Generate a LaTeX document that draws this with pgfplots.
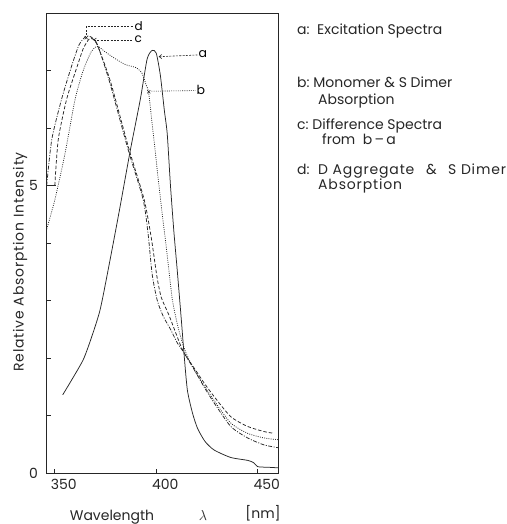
\documentclass[border=0pt]{standalone}
\usepackage{fontspec}
\setmainfont{Poppins}
\newfontfamily\spaced[LetterSpace=6]{Poppins}
\usepackage{pgfplots}
\pgfplotsset{compat=1.18}
\usetikzlibrary{arrows.meta}
\begin{document}
\fontsize{14}{16}\selectfont
\begin{tikzpicture}
\path[use as bounding box] (0pt,0pt) rectangle (506pt,524pt);
\begin{axis}[
  at={(46.7pt,51pt)}, anchor=south west, scale only axis,
  width=231.3pt, height=460pt,
  xmin=346, xmax=460, ymin=0, ymax=8,
  xtick={350,400,450}, ytick={0,1,2,3,4,5,6,7},
  yticklabels={0,,,,,5,,},
  tick align=inside, xtick pos=bottom, ytick pos=left,
  major tick length=4pt,
  axis line style={line width=0.8pt, black!85},
  tick style={line width=0.7pt, black!85},
  /pgf/number format/assume math mode=true,
  /pgf/number format/1000 sep={},
  tick label style={font=\fontsize{14}{16}\selectfont, text=black!85},
  xticklabel style={xshift=9pt, yshift=-1pt},
  yticklabel style={xshift=-4pt},
  every axis plot/.append style={line width=0.75pt, black!85},
  clip=false,
]
% a: excitation spectra (solid)
\addplot[solid, smooth, tension=0.4] coordinates {
(353.9,1.36)(358,1.6)(364,1.97)(368,2.35)(372.4,2.85)(377.3,3.72)(382,4.6)(387.2,5.61)
(392.2,6.51)(395.5,7.2)(398,7.35)(400,7.3)(402,6.92)(404,6.3)(405.4,5.9)(407,5.0)
(408.7,4.19)(410.4,3.5)(412.5,2.6)(413.5,2.15)(415.3,1.45)(417.8,1.05)(420.3,0.78)
(424,0.55)(428.5,0.40)(436.7,0.27)(445,0.22)(448,0.18)(450,0.11)(455,0.1)(460,0.09)};
% b: monomer & S dimer absorption (dotted)
\addplot[dash pattern=on 0.9pt off 1.3pt, smooth, tension=0.4] coordinates {
(346,4.24)(350,4.75)(355,5.55)(360,6.5)(364,7.0)(368,7.33)(371,7.42)(375,7.32)(380,7.2)
(385,7.1)(390,7.05)(393,6.95)(395,6.75)(396.3,6.6)(398.8,5.81)(402.1,4.76)(405,3.9)
(407.9,3.02)(411,2.5)(414.5,2.1)(420,1.72)(428.5,1.26)(436.7,0.87)(445,0.69)(453,0.61)(460,0.58)};
% c: difference spectra (dashed)
\addplot[dash pattern=on 3.5pt off 2pt, smooth, tension=0.4] coordinates {
(350,5.0)(351.7,5.8)(355.9,6.51)(361.2,7.09)(364,7.38)(367,7.55)(369.5,7.53)(372,7.35)
(377.5,6.8)(386.5,5.64)(394,4.76)(397.5,4.1)(400.4,3.4)(402.5,3.05)(406.2,2.75)(410,2.4)
(413.5,2.1)(420.3,1.74)(423.5,1.57)(428.5,1.33)(436.7,0.98)(445,0.81)(453.2,0.72)(458,0.69)};
% d: D aggregate & S dimer absorption (dash-dot)
\addplot[dash pattern=on 4pt off 1.5pt on 1pt off 1.5pt, smooth, tension=0.4] coordinates {
(346,5.0)(348.5,5.8)(353.4,6.51)(358.4,7.09)(362,7.45)(365.5,7.6)(368,7.58)(371,7.45)
(377,6.8)(386,5.64)(393.5,4.76)(396,4.15)(398,3.45)(400.5,3.0)(403.5,2.72)(407,2.5)
(410.4,2.26)(413.5,2.1)(420.3,1.7)(423.5,1.5)(428.5,1.22)(436.7,0.81)(445,0.61)(453,0.49)(460,0.44)};
% step at left
\draw[line width=0.7pt, black!85] (axis cs:346,5.0) -- (axis cs:350.5,5.0);
% markers
\addplot[only marks, mark=x, mark size=2.2pt, line width=0.6pt] coordinates {(396.3,6.63)(365.5,7.57)};
% leaders
\draw[line width=0.6pt, black!85, dash pattern=on 2pt off 1.3pt, {Straight Barb[length=2.5pt,width=4pt]}-] (axis cs:401.2,7.24) -- (axis cs:420.3,7.27);
\node[anchor=west, inner sep=0.5pt, font=\fontsize{12.5}{14}\selectfont] at (axis cs:420.5,7.29) {a};
\draw[line width=0.6pt, black!85, dash pattern=on 1pt off 1.2pt] (axis cs:397.6,6.64) -- (axis cs:419.4,6.65);
\node[anchor=west, inner sep=0.5pt, font=\fontsize{12.5}{14}\selectfont] at (axis cs:419.6,6.66) {b};
\draw[line width=0.6pt, black!85, dash pattern=on 2pt off 1.3pt, {Straight Barb[length=2.5pt,width=4pt]}-] (axis cs:369,7.53) -- (axis cs:388.7,7.53);
\node[anchor=west, inner sep=0.5pt, font=\fontsize{12}{13}\selectfont] at (axis cs:389,7.54) {c};
\draw[line width=0.6pt, black!85, dash pattern=on 2pt off 1.3pt] (axis cs:365.3,7.62) -- (axis cs:365.3,7.76) -- (axis cs:388.7,7.76);
\node[anchor=west, inner sep=0.5pt, font=\fontsize{12}{13}\selectfont] at (axis cs:389,7.78) {d};
\end{axis}
% axis labels
\node[rotate=90, text=black!85, font=\spaced\fontsize{14}{16}\selectfont] at (20pt,262pt) {Relative Absorption Intensity};
\node[text=black!85, font=\fontsize{14}{16}\selectfont] at (112pt,7pt) {Wavelength};
\node[text=black!85, font=\Large] at (203pt,8pt) {$\lambda$};
\node[text=black!85] at (263pt,11pt) {[nm]};
% legend text
\begin{scope}[every node/.style={anchor=base west, inner sep=0pt, text=black!85}]
\node at (297pt,489.5pt) {a:\ \ Excitation Spectra};
\node at (297pt,436.5pt) {b:\ Monomer {\Large\&} S Dimer};
\node at (318pt,419.5pt) {Absorption};
\node at (297pt,394.5pt) {c:\ Difference Spectra};
\node at (322pt,379.5pt) {from\ \ b\,--\,a};
\node at (297pt,349.5pt) {d:};
\node[font=\spaced] at (318pt,349.5pt) {D Aggregate};
\node[font=\Large] at (426pt,349.5pt) {\&};
\node[font=\spaced] at (448pt,349.5pt) {S Dimer};
\node[font=\spaced] at (318pt,334.5pt) {Absorption};
\end{scope}
\end{tikzpicture}
\end{document}
